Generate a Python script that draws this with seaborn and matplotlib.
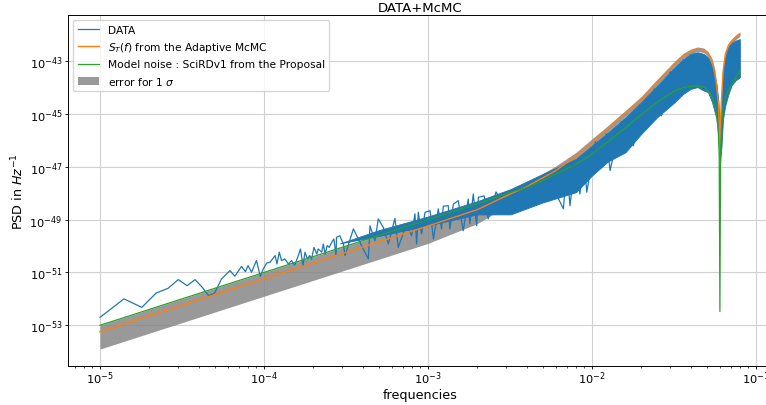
import numpy as np
import matplotlib
matplotlib.use("Agg")
import matplotlib.pyplot as plt
from matplotlib.ticker import FixedLocator, NullLocator, LogFormatterSciNotation
import seaborn as sns

# ---------------------------------------------------------------------------
# Measured periodogram (log10 of PSD), sparse low-frequency part and spikes
data_freq = [1.0e-5, 1.4e-5, 1.8e-5, 2.2e-5, 2.6e-5, 3.0e-5, 3.4e-5, 3.8e-5,
             4.2e-5, 4.6e-5, 5.0e-5, 5.5e-5, 6.2e-5, 6.65e-5, 7.3e-5, 7.7e-5,
             8.0e-5, 8.4e-5, 9.0e-5, 9.5e-5, 9.9e-5, 1.04e-4, 1.09e-4, 1.17e-4,
             1.2e-4, 1.24e-4, 1.28e-4, 1.34e-4, 1.41e-4, 1.47e-4, 1.54e-4,
             1.62e-4, 1.67e-4, 1.73e-4, 1.78e-4, 1.84e-4, 1.9e-4, 1.95e-4,
             2.02e-4, 2.1e-4, 2.14e-4, 2.25e-4, 2.3e-4, 2.36e-4, 2.43e-4,
             2.5e-4, 2.59e-4, 2.67e-4, 2.75e-4, 2.77e-4, 2.9e-4, 3.05e-4,
             3.12e-4, 3.51e-4, 3.85e-4, 4.33e-4, 4.43e-4, 4.75e-4, 4.98e-4,
             5.34e-4, 5.73e-4, 6.29e-4, 6.59e-4, 7.41e-4, 7.95e-4, 8.33e-4,
             8.53e-4, 8.73e-4, 9.14e-4, 9.6e-4, 1.03e-3, 1.08e-3, 1.156e-3,
             1.21e-3, 1.24e-3, 1.33e-3, 1.36e-3, 1.43e-3, 1.53e-3, 1.64e-3,
             1.76e-3, 1.80e-3, 1.89e-3, 1.98e-3, 2.03e-3, 2.2e-3, 2.33e-3,
             2.6e-3, 3.1e-3, 3.4e-3, 3.65e-3, 4.2e-3, 4.6e-3, 5.3e-3, 6.7e-3,
             7.0e-3, 7.35e-3, 7.9e-3, 8.45e-3, 8.9e-3, 9.3e-3, 1.05e-2, 1.15e-2,
             1.22e-2, 1.29e-2, 1.5e-2, 1.79e-2, 1.95e-2, 2.1e-2, 2.4e-2, 2.66e-2,
             3.0e-2, 3.36e-2, 3.6e-2]
data_log = [-52.70, -52.00, -52.32, -51.78, -51.60, -51.27, -51.50, -51.27,
            -51.56, -51.88, -51.78, -51.25, -50.93, -51.14, -50.77, -50.97,
            -50.74, -50.99, -50.55, -51.14, -50.87, -50.64, -50.61, -50.36,
            -50.68, -50.23, -50.55, -50.49, -50.68, -50.55, -50.72,
            -50.36, -50.11, -50.74, -50.23, -50.49, -50.36, -50.49,
            -50.05, -50.30, -50.11, -50.23, -49.92, -50.30, -49.98,
            -50.05, -49.86, -49.73, -50.36, -49.67, -49.61, -49.92,
            -50.36, -49.35, -49.86, -50.49, -49.23, -49.80, -48.97,
            -49.29, -49.92, -48.95, -50.05, -49.16, -49.61, -48.78,
            -49.92, -48.72, -49.54, -48.72, -48.66, -49.73, -48.59,
            -49.35, -48.49, -48.47, -49.35, -48.41, -48.28, -49.42,
            -48.22, -49.16, -48.03, -49.23, -48.15, -48.10, -48.97,
            -47.95, -48.70, -47.80, -48.47, -47.60, -48.45, -47.30, -48.59,
            -46.95, -48.47, -46.75, -48.03, -46.50, -47.96, -46.05, -47.02,
            -45.75, -47.14, -45.30, -46.20, -44.65, -45.56, -44.05, -45.06,
            -43.40, -44.43, -42.95]

# Dense part of the periodogram: upper / lower extent of the blue band
band_freq = [2.9e-4, 5.0e-4, 1.0e-3, 2.0e-3, 3.2e-3, 5.0e-3, 8.0e-3, 1.0e-2,
             1.25e-2, 1.6e-2, 2.0e-2, 2.5e-2, 3.2e-2, 3.6e-2, 4.0e-2, 4.4e-2,
             4.8e-2, 5.1e-2, 5.4e-2, 5.75e-2, 5.9e-2, 6.03e-2, 6.09e-2,
             6.17e-2, 6.3e-2, 6.5e-2, 6.8e-2, 7.1e-2, 7.5e-2, 7.98e-2]
band_top = [-49.90, -49.40, -48.88, -48.30, -47.84, -47.27, -46.70, -46.20,
            -45.70, -45.12, -44.55, -43.92, -43.22, -42.92, -42.72, -42.66,
            -42.72, -42.85, -43.17, -43.90, -44.50, -45.80, -45.30,
            -44.68, -43.29, -42.85, -42.47, -42.31, -42.22, -42.16]
band_bot = [-49.90, -49.62, -49.22, -48.80, -48.80, -48.35, -47.96, -47.33,
            -46.80, -46.45, -45.75, -45.12, -44.55, -44.24, -44.05, -43.98,
            -44.11, -44.17, -44.55, -45.19, -45.82, -46.95, -46.60,
            -46.20, -45.19, -44.68, -44.24, -43.92, -43.73, -43.61]

# Fitted and model noise curves (log10 of PSD)
model_freq = [1.0e-5, 1.0e-4, 1.0e-3, 2.0e-3, 3.0e-3, 4.0e-3, 5.0e-3, 6.0e-3,
              8.0e-3, 1.0e-2, 1.25e-2, 1.6e-2, 2.0e-2, 2.5e-2, 3.2e-2, 3.6e-2,
              4.0e-2, 4.4e-2, 4.8e-2, 5.1e-2, 5.4e-2, 5.6e-2, 5.75e-2, 5.9e-2,
              5.97e-2, 6.03e-2, 6.09e-2, 6.17e-2, 6.3e-2, 6.5e-2, 6.8e-2,
              7.1e-2, 7.5e-2, 7.98e-2]
st_log = [-53.24, -51.24, -49.24, -48.62, -48.10, -47.75, -47.42, -47.15,
          -46.58, -46.08, -45.56, -44.98, -44.45, -43.80, -43.10, -42.80,
          -42.63, -42.54, -42.58, -42.72, -43.00, -43.40, -43.90, -44.60,
          -45.30, -46.50, -45.20, -44.40, -43.40, -42.75, -42.40,
          -42.25, -42.10, -41.97]
model_log = [-53.00, -51.00, -49.00, -48.40, -48.02, -47.78, -47.52, -47.28,
             -46.90, -46.52, -46.05, -45.52, -45.02, -44.55, -44.12, -44.00,
             -43.95, -43.93, -43.98, -44.10, -44.35, -44.60, -45.00, -45.70,
             -46.60, -52.48, -46.30, -45.50, -44.80, -44.40, -44.10,
             -43.90, -43.65, -43.36]
err_hi_log = [-53.00, -51.00, -49.00, -48.40, -47.92, -47.60, -47.26, -46.97,
              -46.45, -45.94, -45.44, -44.86, -44.33, -43.68, -42.99, -42.70,
              -42.54, -42.46, -42.50, -42.63, -42.90, -43.28, -43.76, -44.45,
              -45.10, -46.20, -45.00, -44.25, -43.28, -42.65, -42.31,
              -42.16, -42.01, -41.89]
err_lo_log = [-53.90, -51.90, -49.90, -49.15, -48.50, -48.05, -47.65, -47.32,
              -46.75, -46.22, -45.68, -45.09, -44.56, -43.90, -43.20, -42.89,
              -42.72, -42.63, -42.67, -42.82, -43.12, -43.54, -44.05, -44.78,
              -45.50, -46.80, -45.40, -44.56, -43.53, -42.86, -42.50,
              -42.34, -42.19, -42.06]

title = "DATA+McMC"
x_label = "frequencies"
y_label = "PSD in $Hz^{-1}$"
labels = ["DATA", "$S_T(f)$ from the Adaptive McMC",
          "Model noise : SciRDv1 from the Proposal", "error for 1 $\\sigma$"]
y_tick_exponents = [-53, -51, -49, -47, -45, -43]

# ---------------------------------------------------------------------------
blue, orange, green = "#1f77b4", "#ff7f0e", "#2ca02c"

def psd(vals):
    return 10.0 ** np.asarray(vals, dtype=float)

fig = plt.figure(figsize=(7.66, 4.06), dpi=100)
ax = fig.add_axes([68 / 766, 1 - 366.7 / 406, (772 - 68) / 766, (366.7 - 16) / 406])
ax.set_xscale("log")
ax.set_yscale("log")

# 1-sigma band of the fitted model, underneath everything else
ax.fill_between(model_freq, psd(err_lo_log), psd(err_hi_log),
                color="grey", alpha=0.8, linewidth=0, zorder=1, label=labels[3])

# periodogram: dense band + individual points
ax.fill_between(band_freq, psd(band_bot), psd(band_top), color=blue,
                linewidth=0.6, edgecolor=blue, zorder=2)
sns.lineplot(x=data_freq, y=psd(data_log), ax=ax, color=blue, lw=0.9,
             estimator=None, sort=False, label=labels[0], zorder=2)

sns.lineplot(x=model_freq, y=psd(st_log), ax=ax, color=orange, lw=1.0,
             estimator=None, sort=False, label=labels[1], zorder=3)
sns.lineplot(x=model_freq, y=psd(model_log), ax=ax, color=green, lw=0.9,
             estimator=None, sort=False, label=labels[2], zorder=4)

ax.set_xlim(10 ** -5.195, 10 ** -0.902)
ax.set_ylim(10 ** -54.53, 10 ** -41.25)
ax.yaxis.set_major_locator(FixedLocator([10.0 ** e for e in y_tick_exponents]))
ax.yaxis.set_major_formatter(LogFormatterSciNotation())
ax.yaxis.set_minor_locator(NullLocator())

for side in ax.spines.values():
    side.set_linewidth(0.7)
ax.grid(True, which="major", color="#d0d0d0", lw=0.8)
ax.set_axisbelow(True)
ax.tick_params(axis="both", which="major", labelsize=8.2, length=2.5, width=0.6, pad=1.6)
ax.tick_params(axis="x", which="major", pad=0.4)
ax.tick_params(axis="both", which="minor", length=1.5, width=0.5)
ax.set_title(title, fontsize=9.5, pad=3)
ax.set_xlabel(x_label, fontsize=9.2, labelpad=1.0)
ax.set_ylabel(y_label, fontsize=9.2, labelpad=2)

handles, lbls = ax.get_legend_handles_labels()
order = [lbls.index(l) for l in labels]
ax.legend([handles[i] for i in order], [lbls[i] for i in order],
          loc="upper left", fontsize=7.7)

fig.savefig("out.png", dpi=100)
